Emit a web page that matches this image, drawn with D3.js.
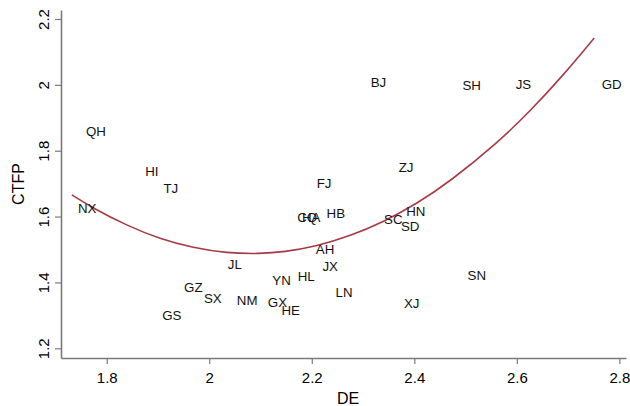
<!DOCTYPE html>
<html>
<head>
<meta charset="utf-8">
<script src="https://cdn.jsdelivr.net/npm/d3@7"></script>
<style>
  html, body { margin: 0; padding: 0; background: #fff; }
  svg { display: block; font-family: "Liberation Sans", Arial, Helvetica, sans-serif; }
</style>
</head>
<body>
<svg id="chart" width="630" height="406"></svg>
<script>
// ---- data ----
const provinces = ["QH","HI","TJ","NX","BJ","SH","JS","GD","ZJ","FJ","CQ","HA","HB","SC","HN","SD","AH","JX","HL","LN","JL","YN","GZ","SX","NM","GX","HE","GS","SN","XJ"];
const deValues   = [1.779,1.888,1.925,1.762,2.330,2.512,2.613,2.785,2.384,2.224,2.191,2.199,2.247,2.359,2.403,2.392,2.226,2.236,2.189,2.263,2.050,2.141,1.969,2.007,2.074,2.133,2.159,1.927,2.522,2.395];
const ctfpValues = [1.860,1.736,1.686,1.625,2.008,1.997,2.002,2.002,1.748,1.701,1.599,1.599,1.609,1.592,1.615,1.571,1.501,1.448,1.417,1.371,1.456,1.405,1.385,1.352,1.347,1.338,1.316,1.301,1.420,1.335];

// fitted curve
const fitDE   = [1.732,1.774,1.839,1.904,1.969,2.034,2.099,2.145,2.210,2.275,2.340,2.405,2.470,2.561,2.626,2.691,2.751];
const fitCTFP = [1.666,1.625,1.573,1.532,1.505,1.489,1.487,1.492,1.510,1.541,1.584,1.639,1.707,1.822,1.920,2.030,2.142];

const xTicks = [1.8, 2.0, 2.2, 2.4, 2.6, 2.8];
const yTicks = [1.2, 1.4, 1.6, 1.8, 2.0, 2.2];
const xTitle = "DE";
const yTitle = "CTFP";

// ---- chart ----
const svg = d3.select("#chart");
const axisColor = "#7a7a7a";

const x = d3.scaleLinear().domain([1.7108, 2.813]).range([61, 626]);
const y = d3.scaleLinear().domain([1.1705, 2.2273]).range([358, 10]);

const fmt = d => (Math.round(d * 10) / 10).toString();

// x axis
const gx = svg.append("g").attr("transform", "translate(0,358)")
  .call(d3.axisBottom(x).tickValues(xTicks).tickFormat(fmt).tickSize(6).tickSizeOuter(0).tickPadding(4));
gx.select(".domain").attr("stroke", axisColor).attr("stroke-width", 1.6);
gx.selectAll(".tick line").attr("stroke", axisColor).attr("stroke-width", 1.2);
gx.selectAll(".tick text").attr("fill", "#000").attr("font-size", 15)
  .attr("font-family", "Liberation Sans, Arial, sans-serif")
  .attr("y", 20).attr("dy", "0.35em");

// y axis
const gy = svg.append("g").attr("transform", "translate(61,0)")
  .call(d3.axisLeft(y).tickValues(yTicks).tickFormat(fmt).tickSize(6).tickSizeOuter(0));
gy.select(".domain").attr("stroke", axisColor).attr("stroke-width", 1.6);
gy.selectAll(".tick line").attr("stroke", axisColor).attr("stroke-width", 1.2);
gy.selectAll(".tick text").attr("fill", "#000").attr("font-size", 15)
  .attr("font-family", "Liberation Sans, Arial, sans-serif")
  .attr("x", 0).attr("y", 0).attr("dy", "0.35em")
  .attr("text-anchor", "middle")
  .attr("transform", "translate(-17.7,0) rotate(-90)");

// titles
svg.append("text").attr("x", 348).attr("y", 398).attr("dy", "0.35em")
  .attr("text-anchor", "middle").attr("font-size", 16).attr("fill", "#000").text(xTitle);
svg.append("text").attr("transform", "translate(18.3,184) rotate(-90)").attr("dy", "0.35em")
  .attr("text-anchor", "middle").attr("font-size", 16).attr("fill", "#000").text(yTitle);

// curve
const fitPts = fitDE.map((d, i) => [d, fitCTFP[i]]);
svg.append("path").datum(fitPts)
  .attr("fill", "none").attr("stroke", "#a63a45").attr("stroke-width", 1.6)
  .attr("d", d3.line().x(d => x(d[0])).y(d => y(d[1])).curve(d3.curveBasis));

// labels
const pts = provinces.map((p, i) => ({ name: p, de: deValues[i], ctfp: ctfpValues[i] }));
svg.append("g").selectAll("text").data(pts).join("text")
  .attr("x", d => x(d.de)).attr("y", d => y(d.ctfp)).attr("dy", "0.35em")
  .attr("text-anchor", "middle").attr("font-size", 13.3).attr("fill", "#111")
  .text(d => d.name);
</script>
</body>
</html>
